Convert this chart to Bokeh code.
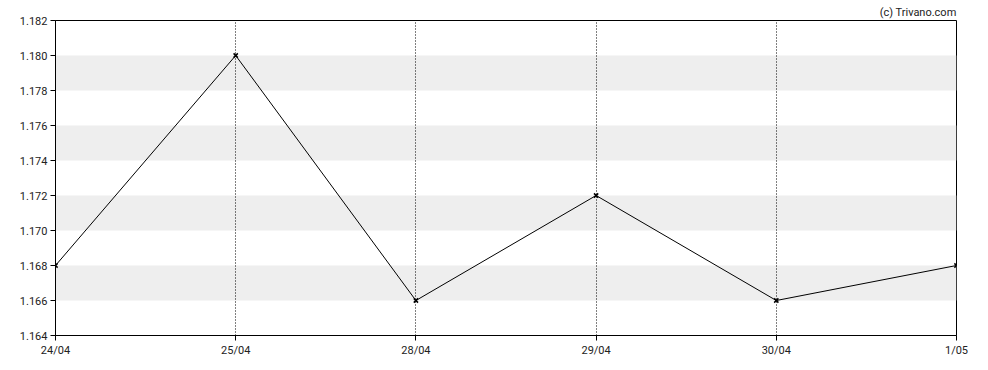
from bokeh.plotting import figure
from bokeh.models import FixedTicker, BoxAnnotation, NumeralTickFormatter, Range1d
from bokeh.embed import file_html
from bokeh.resources import INLINE

dates = ["24/04", "25/04", "28/04", "29/04", "30/04", "1/05"]
prices = [1.168, 1.180, 1.166, 1.172, 1.166, 1.168]
y_ticks = [1.164, 1.166, 1.168, 1.170, 1.172, 1.174, 1.176, 1.178, 1.180, 1.182]
band_lo = [1.166, 1.170, 1.174, 1.178]
band_hi = [1.168, 1.172, 1.176, 1.180]

xs = list(range(len(dates)))

p = figure(width=988, height=370, output_backend="svg", toolbar_location=None,
           x_range=Range1d(0, len(dates) - 1), y_range=Range1d(y_ticks[0], y_ticks[-1]),
           min_border_left=55, min_border_right=32, min_border_top=20, min_border_bottom=35,
           frame_width=901, frame_height=315)

p.title.text = "(c) Trivano.com"
p.title.align = "right"
p.title.text_font = "Roboto"
p.title.text_font_size = "11px"
p.title.text_font_style = "normal"
p.title.text_color = "#222222"
p.title.standoff = 4
p.title.offset = 0

for lo, hi in zip(band_lo, band_hi):
    p.add_layout(BoxAnnotation(bottom=lo, top=hi, fill_color="#eeeeee", fill_alpha=1,
                               line_alpha=0, level="image"))

p.outline_line_color = "black"
p.outline_line_width = 1
p.outline_line_alpha = 1
p.background_fill_color = "white"

p.xaxis.ticker = FixedTicker(ticks=xs)
p.xaxis.major_label_overrides = {i: d for i, d in enumerate(dates)}
p.yaxis.ticker = FixedTicker(ticks=y_ticks)
p.yaxis.formatter = NumeralTickFormatter(format="0.000")

for ax in (p.xaxis, p.yaxis):
    ax.axis_line_color = "black"
    ax.major_tick_line_color = "black"
    ax.major_tick_in = 0
    ax.major_tick_out = 5
    ax.minor_tick_line_color = None
    ax.major_label_text_font = "Roboto"
    ax.major_label_text_font_size = "11px"
    ax.major_label_text_color = "#222222"
    ax.major_label_standoff = 3

p.ygrid.grid_line_color = None
p.xgrid.ticker = FixedTicker(ticks=xs)
p.xgrid.grid_line_color = "black"
p.xgrid.grid_line_dash = "1 2"
p.xgrid.grid_line_width = 1
p.xgrid.level = "glyph"

p.line(xs, prices, line_color="black", line_width=1)
p.scatter(xs, prices, marker="x", size=6, line_color="black", line_width=1.5)

open("out.html", "w").write(file_html(p, INLINE))
